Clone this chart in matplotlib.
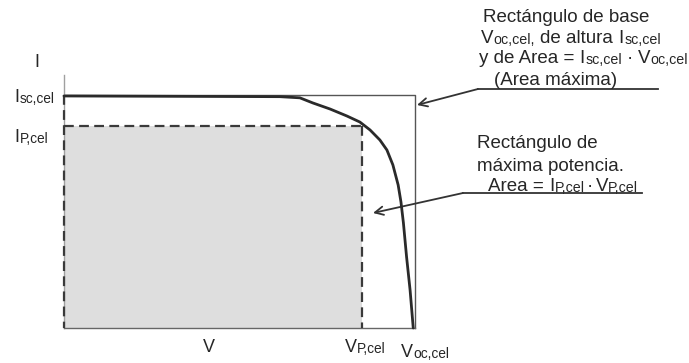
import matplotlib
matplotlib.use('Agg')
import matplotlib.pyplot as plt
from matplotlib.lines import Line2D

# ---- data (normalised units: V / Voc, I / Isc) ----
V_curve = [0.0, 0.615, 0.672, 0.709, 0.758, 0.806, 0.843, 0.872, 0.900,
           0.920, 0.937, 0.952, 0.960, 0.967, 0.976, 0.986, 0.995]
I_curve = [0.996, 0.993, 0.988, 0.966, 0.940, 0.910, 0.884, 0.850, 0.807,
           0.764, 0.700, 0.614, 0.541, 0.451, 0.305, 0.163, 0.0]
V_oc = 1.0
I_sc = 1.0
V_p = 0.848
I_p = 0.865
I_axis_top = 1.086

plt.rcParams['font.family'] = ['Liberation Sans', 'DejaVu Sans']

W, H = 689, 363
fig = plt.figure(figsize=(6.89, 3.63), dpi=100)
renderer = fig.canvas.get_renderer()
TXT_COLOR = '#262626'


def fx(px):
    return px / W


def fy(py):
    return 1 - py / H


def draw_runs(x, y, parts, size):
    """Draw text made of normal runs and small (subscript-like) runs."""
    for text, kind in parts:
        if kind == 'gap':
            x += text * size * 100 / 72
            continue
        s = size * 0.76 if kind == 'sub' else size
        dy = 0.8 if kind == 'sub' else 0
        t = fig.text(fx(x), fy(y + dy), text, fontsize=s, va='baseline',
                     ha='left', color=TXT_COLOR)
        x += t.get_window_extent(renderer).width


ax = fig.add_axes([fx(64), fy(328), fx(415) - fx(64), fy(75) - fy(328)])
ax.set_xlim(0, V_oc)
ax.set_ylim(0, I_axis_top)
ax.set_xticks([])
ax.set_yticks([])
for s in ('top', 'right'):
    ax.spines[s].set_visible(False)
ax.spines['left'].set_color('#a0a0a0')
ax.spines['left'].set_linewidth(1.0)
ax.spines['bottom'].set_color('#666666')
ax.spines['bottom'].set_linewidth(1.0)

# maximum power rectangle (shaded, dashed)
ax.fill_between([0, V_p], 0, I_p, color='#dedede', lw=0, zorder=1)
dash = dict(color='#3a3a3a', lw=1.6, ls=(0, (4.4, 2.4)), zorder=3, clip_on=False)
ax.plot([0, V_p], [I_p, I_p], **dash)
ax.plot([V_p, V_p], [I_p, 0], **dash)
ax.plot([0, 0], [I_sc, 0], **dash)

# outer rectangle Voc x Isc
ax.plot([0, V_oc, V_oc], [I_sc, I_sc, 0], color='#555555', lw=1.0,
        zorder=2, clip_on=False)

# I-V curve
ax.plot(V_curve, I_curve, color='#2a2a2a', lw=2.0, zorder=4,
        solid_capstyle='round', clip_on=False)

LS = 13.0   # label size
AS = 13.5   # annotation size

# axis labels
draw_runs(34, 67, [('I', 'n')], LS)
draw_runs(14, 102, [('I', 'n'), (0.05, 'gap'), ('sc,cel', 'sub')], LS)
draw_runs(14, 142, [('I', 'n'), (0.05, 'gap'), ('P,cel', 'sub')], LS)
draw_runs(203, 352, [('V', 'n')], LS)
draw_runs(345, 352, [('V', 'n'), ('P,cel', 'sub')], LS)
draw_runs(401, 357, [('V', 'n'), ('oc,cel', 'sub')], LS)

# annotation 1
draw_runs(483, 22, [('Rectángulo de base', 'n')], AS)
draw_runs(481, 43, [('V', 'n'), ('oc,cel,', 'sub'), (0.278, 'gap'),
                    ('de altura', 'n'), (0.278, 'gap'), ('I', 'n'),
                    (0.04, 'gap'), ('sc,cel', 'sub')], AS)
draw_runs(479, 63, [('y de Area =', 'n'), (0.278, 'gap'), ('I', 'n'),
                    (0.04, 'gap'), ('sc,cel', 'sub'), (0.25, 'gap'),
                    ('·', 'n'), (0.25, 'gap'), ('V', 'n'),
                    ('oc,cel', 'sub')], AS)
draw_runs(494, 85, [('(Area máxima)', 'n')], AS)
fig.add_artist(Line2D([fx(478), fx(658)], [fy(89), fy(89)],
                      transform=fig.transFigure, color='#333333', lw=1.3))
ax.annotate('', xy=(fx(417), fy(105)), xytext=(fx(478), fy(89)),
            xycoords='figure fraction', textcoords='figure fraction',
            arrowprops=dict(arrowstyle='->', color='#333333', lw=1.3,
                            mutation_scale=15, shrinkA=0, shrinkB=0),
            annotation_clip=False)

# annotation 2
draw_runs(477, 148, [('Rectángulo de', 'n')], AS)
draw_runs(477, 171, [('máxima potencia.', 'n')], AS)
draw_runs(488, 191, [('Area =', 'n'), (0.278, 'gap'), ('I', 'n'),
                     (0.04, 'gap'), ('P,cel', 'sub'), (0.12, 'gap'),
                     ('·', 'n'), (0.12, 'gap'), ('V', 'n'),
                     ('P,cel', 'sub')], AS)
fig.add_artist(Line2D([fx(463), fx(642)], [fy(193), fy(193)],
                      transform=fig.transFigure, color='#333333', lw=1.3))
ax.annotate('', xy=(fx(373), fy(213)), xytext=(fx(463), fy(193)),
            xycoords='figure fraction', textcoords='figure fraction',
            arrowprops=dict(arrowstyle='->', color='#333333', lw=1.3,
                            mutation_scale=15, shrinkA=0, shrinkB=0),
            annotation_clip=False)

fig.savefig('out.png', dpi=100)
